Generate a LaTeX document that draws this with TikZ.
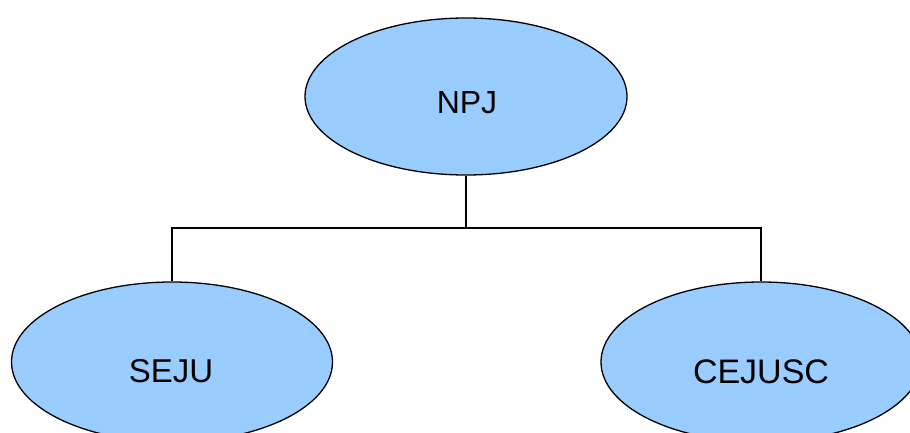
\documentclass[tikz,border=0pt]{standalone}
\usepackage{fontspec}
\setmainfont{Liberation Sans}
\usetikzlibrary{shapes.geometric}
\definecolor{nodeblue}{HTML}{99CCFF}
\begin{document}
\begin{tikzpicture}[x=1pt,y=1pt,
  unit/.style={ellipse, draw=black, line width=1.3pt, fill=nodeblue, inner sep=0pt},
  caption/.style={inner sep=0pt},
  link/.style={draw=black, line width=1.3pt}]
\useasboundingbox (0,0) rectangle (910,432);
\clip (0,0) rectangle (910,432);
\fill[white] (0,0) rectangle (910,432);
\node[unit, minimum width=322pt, minimum height=157pt] (npj) at (466,335.5) {};
\node[unit, minimum width=321pt, minimum height=160pt] (seju) at (172,70) {};
\node[unit, minimum width=320pt, minimum height=160pt] (cejusc) at (761,70) {};
\node[caption, font=\fontsize{32}{38}\selectfont] (npjtext) at (467,329.5) {NPJ};
\node[caption, font=\fontsize{33}{40}\selectfont] (sejutext) at (171,60.5) {SEJU};
\node[caption, font=\fontsize{34}{41}\selectfont] (cejusctext) at (761,60.5) {CEJUSC};
\coordinate (bus) at (466,204);
\draw[link] (npj.south) -- (bus);
\draw[link] (bus) -| (seju.north);
\draw[link] (bus) -| (cejusc.north);
\end{tikzpicture}
\end{document}
